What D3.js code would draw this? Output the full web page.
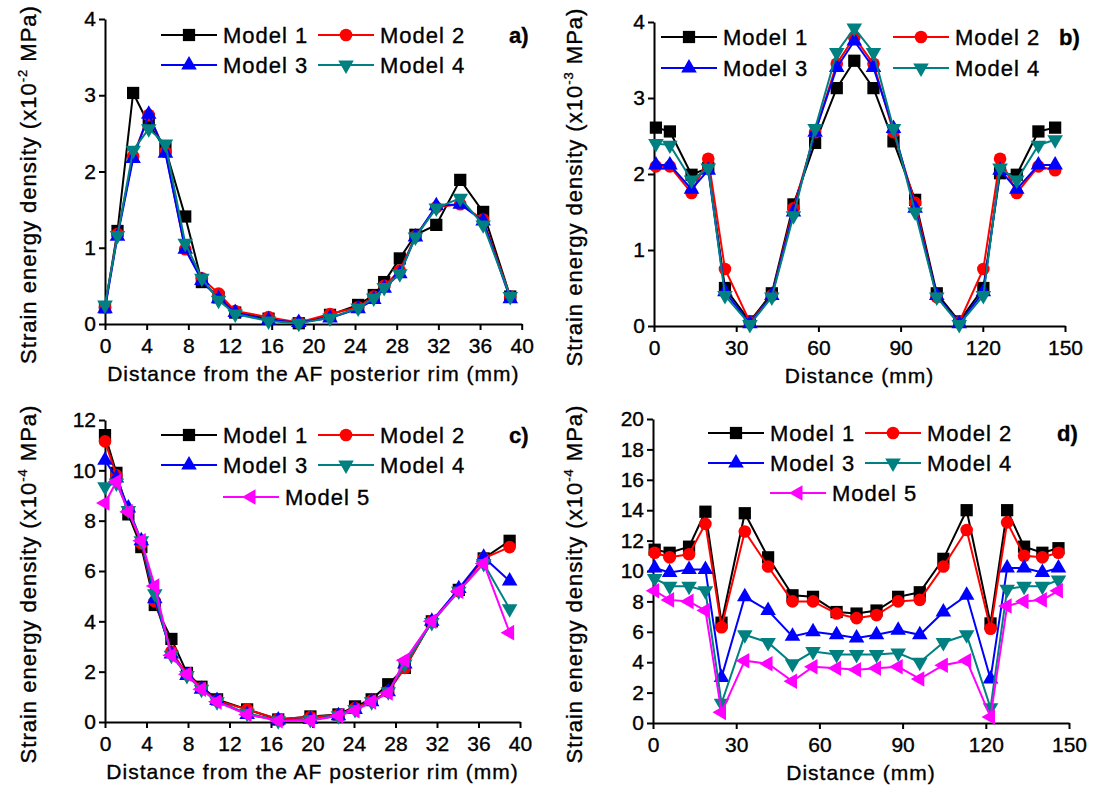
<!DOCTYPE html>
<html><head><meta charset="utf-8">
<script src="https://cdn.jsdelivr.net/npm/d3@7/dist/d3.min.js"></script>
<style>
body{margin:0;background:#fff;}
svg text{font-family:"Liberation Sans",Arial,sans-serif;fill:#000;stroke:#000;stroke-width:0.35px;}
</style></head>
<body><svg id="c" width="1096" height="785"></svg>
<script>
// ---- Data ----
const seriesNames = ["Model 1","Model 2","Model 3","Model 4","Model 5"];
const seriesColors = ["#000000","#ff0000","#0000ff","#008080","#ff00ff"];

// Panel a
const xA = [0,1.2,2.7,4.2,5.8,7.7,9.3,10.9,12.5,15.7,18.6,21.6,24.3,25.8,26.8,28.3,29.8,31.8,34.1,36.3,38.9];
const a1 = [0.22,1.22,3.03,2.62,2.30,1.41,0.55,0.35,0.15,0.07,0.01,0.12,0.25,0.38,0.55,0.86,1.17,1.30,1.89,1.47,0.36];
const a2 = [0.22,1.18,2.20,2.74,2.26,0.98,0.60,0.40,0.17,0.09,0.02,0.13,0.22,0.36,0.50,0.70,1.15,1.53,1.57,1.37,0.36];
const a3 = [0.20,1.15,2.17,2.75,2.24,0.98,0.57,0.33,0.15,0.05,0.02,0.08,0.20,0.32,0.47,0.66,1.14,1.55,1.57,1.35,0.33];
const a4 = [0.25,1.16,2.28,2.56,2.36,1.06,0.60,0.31,0.13,0.04,0.01,0.08,0.21,0.34,0.48,0.66,1.14,1.52,1.65,1.30,0.36];
const ticksXA = [0,4,8,12,16,20,24,28,32,36,40];
const ticksYA = [0,1,2,3,4];

// Panel b
const xB = [0.7,5.8,13.7,19.8,25.9,35.0,43.0,50.9,58.8,66.7,73.1,80.1,87.4,95.3,103.2,111.4,120.2,126.3,132.4,140.3,146.4];
const b1 = [2.61,2.56,1.99,2.08,0.50,0.06,0.43,1.60,2.41,3.13,3.49,3.13,2.43,1.66,0.43,0.06,0.50,2.01,1.99,2.56,2.61];
const b2 = [2.10,2.10,1.75,2.20,0.75,0.05,0.40,1.55,2.55,3.45,3.80,3.45,2.55,1.62,0.38,0.05,0.75,2.20,1.75,2.10,2.05];
const b3 = [2.12,2.12,1.80,2.05,0.45,0.03,0.40,1.50,2.55,3.40,3.75,3.40,2.60,1.55,0.40,0.03,0.45,2.05,1.80,2.12,2.12];
const b4 = [2.40,2.38,1.92,2.08,0.40,0.02,0.38,1.45,2.60,3.60,3.92,3.60,2.60,1.50,0.38,0.02,0.40,2.08,1.92,2.38,2.45];
const ticksXB = [0,30,60,90,120,150];
const ticksYB = [0,1,2,3,4];

// Panel c
const xC = [0,1.1,2.25,3.5,4.8,6.4,7.9,9.3,10.8,13.7,16.7,19.8,22.5,24.1,25.7,27.3,28.9,31.5,34.1,36.5,39.0];
const c1 = [11.4,9.9,8.25,6.95,4.65,3.3,1.95,1.4,0.9,0.5,0.1,0.22,0.3,0.62,0.9,1.5,2.15,4.0,5.25,6.5,7.2];
const c2 = [11.15,9.8,8.4,7.1,4.8,2.8,1.9,1.35,0.85,0.5,0.12,0.2,0.28,0.55,0.85,1.2,2.15,4.0,5.2,6.5,6.95];
const c3 = [10.4,9.7,8.5,7.2,4.9,2.7,1.85,1.3,0.85,0.3,0.08,0.1,0.25,0.5,0.8,1.2,2.3,4.0,5.3,6.55,5.6];
const c4 = [9.35,9.5,8.4,7.2,5.1,2.65,1.85,1.3,0.8,0.35,0.05,0.1,0.25,0.5,0.8,1.2,2.3,3.95,5.2,6.3,4.5];
const c5 = [8.7,9.55,8.35,7.2,5.4,2.65,1.9,1.3,0.8,0.3,0.05,0.05,0.25,0.45,0.8,1.15,2.45,4.0,5.2,6.3,3.55];
const ticksXC = [0,4,8,12,16,20,24,28,32,36,40];
const ticksYC = [0,2,4,6,8,10,12];

// Panel d
const xD = [0.6,6.0,13.0,18.9,24.7,33.1,41.5,50.3,57.7,66.2,73.4,80.6,88.4,96.2,104.7,113.1,121.7,127.7,133.8,140.4,146.2];
const d1 = [11.4,11.2,11.6,13.9,6.6,13.8,10.9,8.4,8.3,7.3,7.2,7.4,8.3,8.6,10.8,14.0,6.55,14.0,11.6,11.2,11.5];
const d2 = [11.2,10.9,11.1,13.1,6.3,12.6,10.3,8.0,8.0,7.2,6.9,7.1,8.0,8.1,10.3,12.7,6.2,13.2,11.0,10.9,11.2];
const d3v = [10.2,9.9,10.1,10.1,3.0,8.3,7.4,5.7,6.0,5.8,5.6,5.8,6.1,5.8,7.3,8.4,2.9,10.2,10.2,9.9,10.2];
const d4 = [9.5,9.0,9.0,8.7,1.3,5.8,5.3,3.9,4.7,4.5,4.5,4.5,4.6,4.0,5.3,5.8,1.0,8.8,9.0,9.0,9.4];
const d5 = [8.7,8.1,8.0,7.4,0.7,4.1,3.9,2.75,3.7,3.6,3.5,3.6,3.7,2.9,3.8,4.1,0.4,7.7,8.0,8.1,8.7];
const ticksXD = [0,30,60,90,120,150];
const ticksYD = [0,2,4,6,8,10,12,14,16,18,20];

// ---- Drawing ----
const svg = d3.select("#c");
const markerKinds = ["square","circle","up","down","left"];

function markerPath(kind){
  if(kind==="square") return d3.symbol(d3.symbolSquare,150)();
  if(kind==="circle") return d3.symbol(d3.symbolCircle,125)();
  return d3.symbol(d3.symbolTriangle,105)();
}
function markerRot(kind){
  if(kind==="down") return 180;
  if(kind==="left") return -90;
  return 0;
}

function drawPanel(p){
  const g = svg.append("g");
  const x = d3.scaleLinear().domain(p.xDomain).range([p.left,p.right]);
  const y = d3.scaleLinear().domain(p.yDomain).range([p.bottom,p.top]);

  // axes
  const ax = g.append("g").attr("transform",`translate(0,${p.bottom})`)
    .call(d3.axisBottom(x).tickValues(p.xTicks).tickFormat(d3.format("d")).tickSize(6).tickSizeOuter(0).tickPadding(8));
  const ay = g.append("g").attr("transform",`translate(${p.left},0)`)
    .call(d3.axisLeft(y).tickValues(p.yTicks).tickFormat(d3.format("d")).tickSize(6).tickSizeOuter(0).tickPadding(3));
  [ax,ay].forEach(a=>{
    a.select(".domain").attr("stroke","#000").attr("stroke-width",2);
    a.selectAll(".tick line").attr("stroke","#000").attr("stroke-width",2);
    a.selectAll(".tick text").attr("font-size",21).attr("font-family","Liberation Sans, Arial").attr("fill","#000");
  });

  // series
  p.series.forEach((vals,i)=>{
    const pts = p.xs.map((xv,j)=>[xv,vals[j]]);
    g.append("path").datum(pts)
      .attr("fill","none").attr("stroke",seriesColors[i]).attr("stroke-width",2)
      .attr("d",d3.line().x(d=>x(d[0])).y(d=>y(d[1])));
    const k = markerKinds[i];
    g.selectAll(null).data(pts).enter().append("path")
      .attr("d",markerPath(k))
      .attr("fill",seriesColors[i])
      .attr("transform",d=>`translate(${x(d[0])},${y(d[1])}) rotate(${markerRot(k)})`);
  });

  // x title
  g.append("text").attr("x",(p.left+p.right)/2).attr("y",p.bottom+57)
    .attr("text-anchor","middle").attr("font-size",21).attr("letter-spacing",1)
    .text(p.xTitle);

  // y title
  const yt = g.append("text")
    .attr("transform",`translate(${p.yTitleX},${(p.top+p.bottom)/2+13}) rotate(-90)`)
    .attr("text-anchor","middle").attr("font-size",22).attr("letter-spacing",1);
  yt.append("tspan").text("Strain energy density (x10");
  yt.append("tspan").attr("font-size",13).attr("dy",-9).text(p.exp);
  yt.append("tspan").attr("dy",9).text(" MPa)");

  // legend
  p.legend.forEach((L,i)=>{
    const col = seriesColors[i];
    g.append("line").attr("x1",L[0]).attr("x2",L[0]+56).attr("y1",L[1]).attr("y2",L[1])
      .attr("stroke",col).attr("stroke-width",2);
    const k = markerKinds[i];
    g.append("path").attr("d",markerPath(k)).attr("fill",col)
      .attr("transform",`translate(${L[0]+28},${L[1]}) rotate(${markerRot(k)})`);
    g.append("text").attr("x",L[0]+62).attr("y",L[1]+8).attr("font-size",22).attr("letter-spacing",1)
      .text(seriesNames[i]);
  });

  g.append("text").attr("x",p.tag[0]).attr("y",p.tag[1]+8).attr("font-size",22)
    .attr("font-weight","bold").text(p.tagText);
}

drawPanel({left:105,right:521.7,top:19,bottom:324,xDomain:[0,40],yDomain:[0,4],
  xTicks:ticksXA,yTicks:ticksYA,xs:xA,series:[a1,a2,a3,a4],
  xTitle:"Distance from the AF posterior rim (mm)",yTitleX:36,exp:"-2",
  legend:[[161,35],[318,35],[161,65],[318,65]],tag:[509,35],tagText:"a)"});

drawPanel({left:654,right:1065,top:22,bottom:326,xDomain:[0,150],yDomain:[0,4],
  xTicks:ticksXB,yTicks:ticksYB,xs:xB,series:[b1,b2,b3,b4],
  xTitle:"Distance (mm)",yTitleX:582,exp:"-3",
  legend:[[661,37],[893,37],[661,68],[893,68]],tag:[1059,37],tagText:"b)"});

drawPanel({left:105,right:520,top:420,bottom:722,xDomain:[0,40],yDomain:[0,12],
  xTicks:ticksXC,yTicks:ticksYC,xs:xC,series:[c1,c2,c3,c4,c5],
  xTitle:"Distance from the AF posterior rim (mm)",yTitleX:36,exp:"-4",
  legend:[[161,435],[318,435],[161,465],[318,465],[223,497]],tag:[509,435],tagText:"c)"});

drawPanel({left:653,right:1069,top:419,bottom:723,xDomain:[0,150],yDomain:[0,20],
  xTicks:ticksXD,yTicks:ticksYD,xs:xD,series:[d1,d2,d3v,d4,d5],
  xTitle:"Distance (mm)",yTitleX:582,exp:"-4",
  legend:[[708,433],[865,433],[708,463],[865,463],[770,493]],tag:[1057,433],tagText:"d)"});
</script></body></html>
